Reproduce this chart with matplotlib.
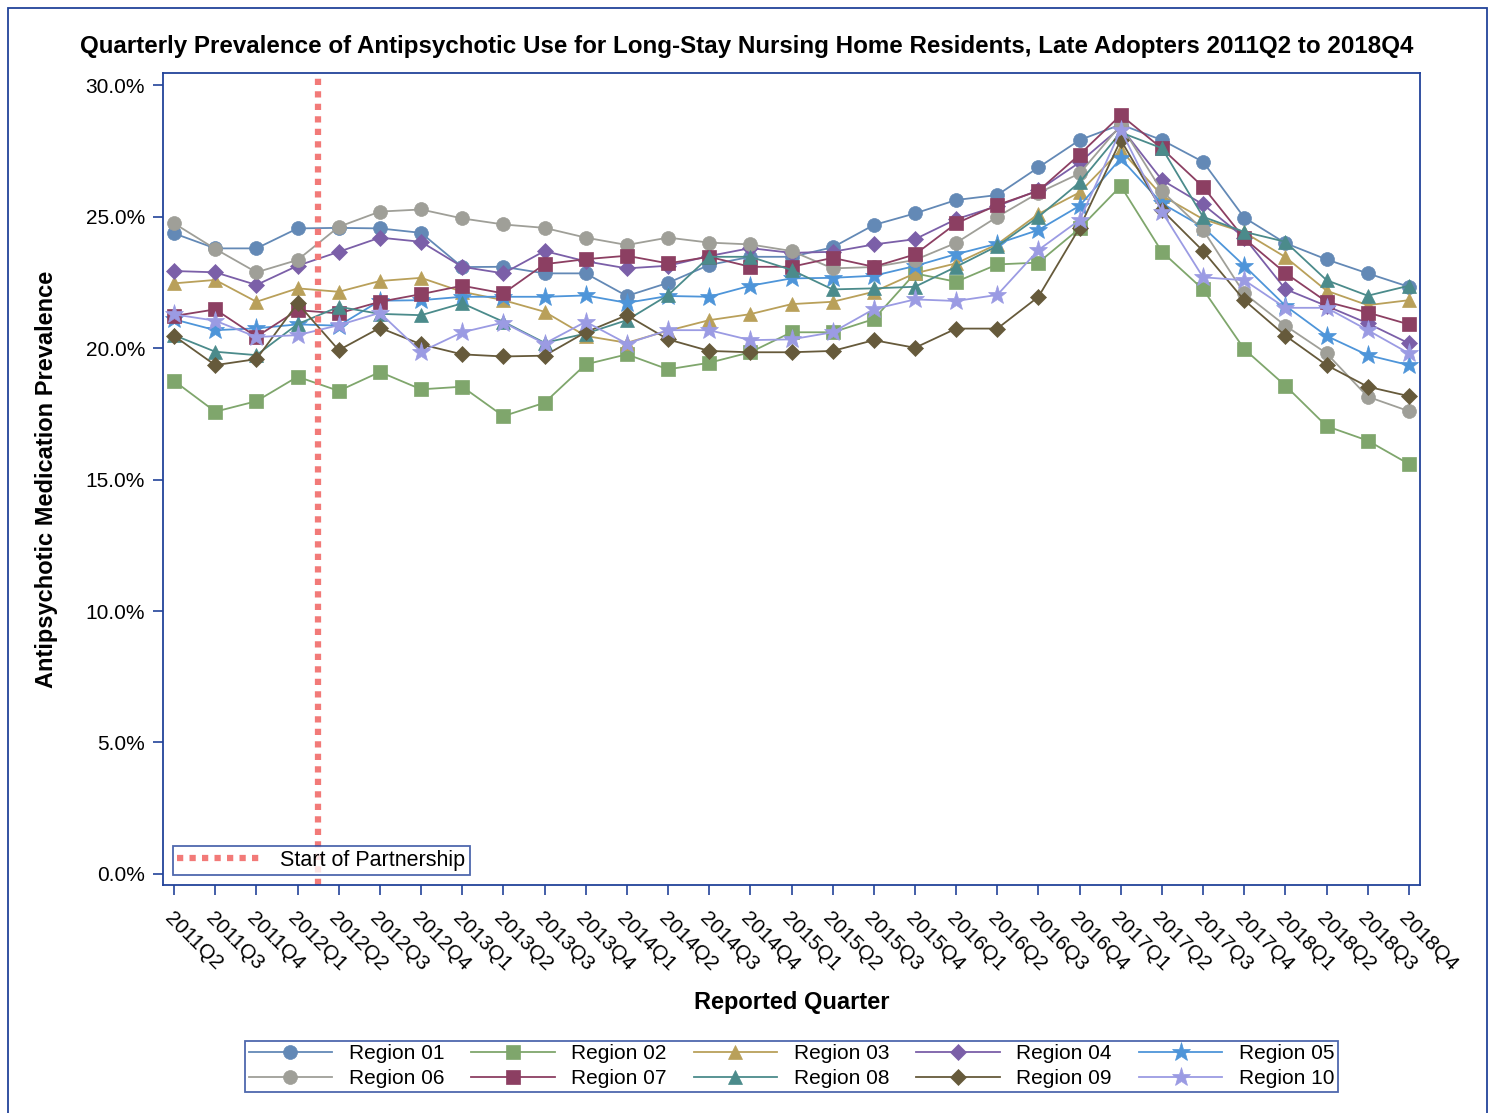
import numpy as np
import matplotlib
matplotlib.use("Agg")
import matplotlib.pyplot as plt
from matplotlib.patches import Rectangle
from matplotlib.ticker import FuncFormatter

plt.rcParams["font.family"] = ["Liberation Sans", "DejaVu Sans"]

QUARTERS = [f"{y}Q{q}" for y in range(2011, 2019) for q in range(1, 5)][1:]

r01 = [24.36, 23.79, 23.79, 24.55, 24.57, 24.55, 24.38, 23.08, 23.09, 22.84, 22.84,
       21.98, 22.48, 23.16, 23.47, 23.47, 23.83, 24.68, 25.12, 25.63, 25.82, 26.87,
       27.91, 28.50, 27.91, 27.08, 24.96, 23.99, 23.37, 22.84, 22.33]
r02 = [18.75, 17.58, 17.98, 18.91, 18.37, 19.09, 18.43, 18.53, 17.41, 17.92, 19.38,
       19.76, 19.19, 19.44, 19.84, 20.60, 20.60, 21.10, 22.84, 22.52, 23.18, 23.25,
       24.55, 26.16, 23.66, 22.23, 19.96, 18.57, 17.03, 16.48, 15.59]
r03 = [22.46, 22.59, 21.76, 22.27, 22.14, 22.55, 22.67, 22.14, 21.82, 21.38, 20.46,
       20.20, 20.66, 21.06, 21.29, 21.67, 21.76, 22.14, 22.84, 23.22, 23.95, 25.10,
       25.92, 27.53, 25.80, 24.90, 24.40, 23.46, 22.18, 21.63, 21.82]
r04 = [22.93, 22.88, 22.40, 23.13, 23.66, 24.20, 24.04, 23.09, 22.84, 23.69, 23.30,
       23.03, 23.13, 23.50, 23.80, 23.62, 23.66, 23.94, 24.14, 24.90, 25.40, 26.00,
       27.06, 28.40, 26.39, 25.46, 24.20, 22.24, 21.60, 20.94, 20.18]
r05 = [21.09, 20.68, 20.75, 20.90, 20.85, 21.80, 21.82, 21.95, 21.95, 21.95, 22.00,
       21.72, 21.98, 21.95, 22.37, 22.65, 22.67, 22.75, 23.12, 23.57, 23.97, 24.49,
       25.41, 27.21, 25.50, 24.60, 23.13, 21.61, 20.46, 19.73, 19.35]
r06 = [24.74, 23.77, 22.88, 23.35, 24.61, 25.19, 25.27, 24.93, 24.70, 24.57, 24.20,
       23.92, 24.20, 24.01, 23.94, 23.69, 23.03, 23.08, 23.35, 24.00, 24.99, 25.90,
       26.64, 28.48, 25.97, 24.49, 22.08, 20.85, 19.80, 18.15, 17.60]
r07 = [21.22, 21.47, 20.43, 21.44, 21.32, 21.76, 22.05, 22.37, 22.08, 23.19, 23.38,
       23.51, 23.22, 23.47, 23.09, 23.09, 23.43, 23.09, 23.56, 24.74, 25.44, 25.98,
       27.36, 28.86, 27.59, 26.13, 24.17, 22.85, 21.76, 21.35, 20.90]
r08 = [20.49, 19.86, 19.73, 20.91, 21.57, 21.30, 21.25, 21.70, 21.00, 20.20, 20.55,
       21.06, 22.01, 23.47, 23.47, 22.97, 22.23, 22.27, 22.33, 23.09, 23.88, 24.99,
       26.30, 28.20, 27.60, 24.99, 24.42, 24.04, 22.58, 21.99, 22.37]
r09 = [20.46, 19.35, 19.58, 21.70, 19.92, 20.77, 20.14, 19.76, 19.68, 19.71, 20.60,
       21.25, 20.33, 19.89, 19.84, 19.84, 19.89, 20.30, 20.01, 20.74, 20.74, 21.95,
       24.58, 27.91, 25.25, 23.69, 21.82, 20.47, 19.35, 18.53, 18.17]
r10 = [21.28, 21.04, 20.42, 20.49, 20.87, 21.34, 19.86, 20.60, 20.97, 20.17, 21.00,
       20.17, 20.68, 20.68, 20.30, 20.33, 20.60, 21.48, 21.85, 21.79, 22.02, 23.73,
       24.87, 28.29, 25.18, 22.69, 22.58, 21.53, 21.53, 20.68, 19.80]

REGIONS = [f"Region {i:02d}" for i in range(1, 11)]
VALUES = [r01, r02, r03, r04, r05, r06, r07, r08, r09, r10]
PARTNERSHIP_START = 3.5  # between 2012Q1 and 2012Q2

COLORS = ["#6389b6", "#7fa66c", "#b9a05a", "#7b5fa8", "#4e95d9",
          "#9f9f98", "#8c3f62", "#4b8b8b", "#665a3b", "#9b9be3"]
MARKERS = ["o", "s", "^", "D", "*", "o", "s", "^", "D", "*"]
MSIZES = {"o": 10, "s": 9.5, "^": 10.5, "D": 8, "*": 14}
BLUE = "#22439a"

fig = plt.figure(figsize=(14.94, 11.13), dpi=100)
ax = fig.add_axes([163 / 1494, 1 - 885 / 1113, (1420 - 163) / 1494, (885 - 73) / 1113])

x = np.arange(len(QUARTERS))
handles = []
for name, vals, c, m in zip(REGIONS, VALUES, COLORS, MARKERS):
    h, = ax.plot(x, vals, color=c, marker=m, markersize=MSIZES[m], linewidth=1.3,
                 markeredgewidth=0.5, markeredgecolor=c, label=name)
    handles.append(h)

vl = ax.axvline(PARTNERSHIP_START, color="#f27a78", linestyle=(0, (1, 1)), linewidth=4.5,
                label="Start of Partnership")

ax.set_xlim(-0.27, 30.27)
ax.set_ylim(-0.42, 30.46)
ax.set_yticks(np.arange(0, 31, 5))
ax.yaxis.set_major_formatter(FuncFormatter(lambda v, p: f"{v:.1f}%"))
ax.set_xticks(x)
ax.set_xticklabels(QUARTERS, rotation=-45, ha="left", va="top", rotation_mode="anchor")
ax.tick_params(axis="both", direction="out", length=7, width=1.2, color=BLUE,
               labelsize=15, labelcolor="black", pad=6)
ax.tick_params(axis="x", pad=10)
for s in ax.spines.values():
    s.set_color(BLUE)
    s.set_linewidth(1.3)

ax.set_xlabel("Reported Quarter", fontsize=17, fontweight="bold", labelpad=12)
ax.set_ylabel("Antipsychotic Medication Prevalence", fontsize=17, fontweight="bold", labelpad=20)
fig.text(0.5, 1 - 46 / 1113, "Quarterly Prevalence of Antipsychotic Use for Long-Stay Nursing Home "
         "Residents, Late Adopters 2011Q2 to 2018Q4", ha="center", va="center",
         fontsize=17.4, fontweight="bold")

leg1 = ax.legend(handles=[vl], loc="lower left", fontsize=15.5, handlelength=3.9,
                 fancybox=False, edgecolor=BLUE, borderpad=0.2, borderaxespad=0.45,
                 handletextpad=0.9)
leg1.get_frame().set_linewidth(1.3)

order = [0, 5, 1, 6, 2, 7, 3, 8, 4, 9]
leg2 = fig.legend([handles[i] for i in order], [REGIONS[i] for i in order],
                  loc="lower center", bbox_to_anchor=(791.5 / 1494, 1 - 1102 / 1113),
                  ncol=5, fontsize=15, handlelength=4, fancybox=False, edgecolor=BLUE,
                  borderpad=0.15, labelspacing=0.3, columnspacing=1.3, handletextpad=0.8)
leg2.get_frame().set_linewidth(1.3)

fig.patches.append(Rectangle((8 / 1494, -0.01), (1487 - 8) / 1494, 1.01 - 8 / 1113,
                             transform=fig.transFigure, fill=False, edgecolor=BLUE,
                             linewidth=1.3))

fig.savefig("out.png", dpi=100)
